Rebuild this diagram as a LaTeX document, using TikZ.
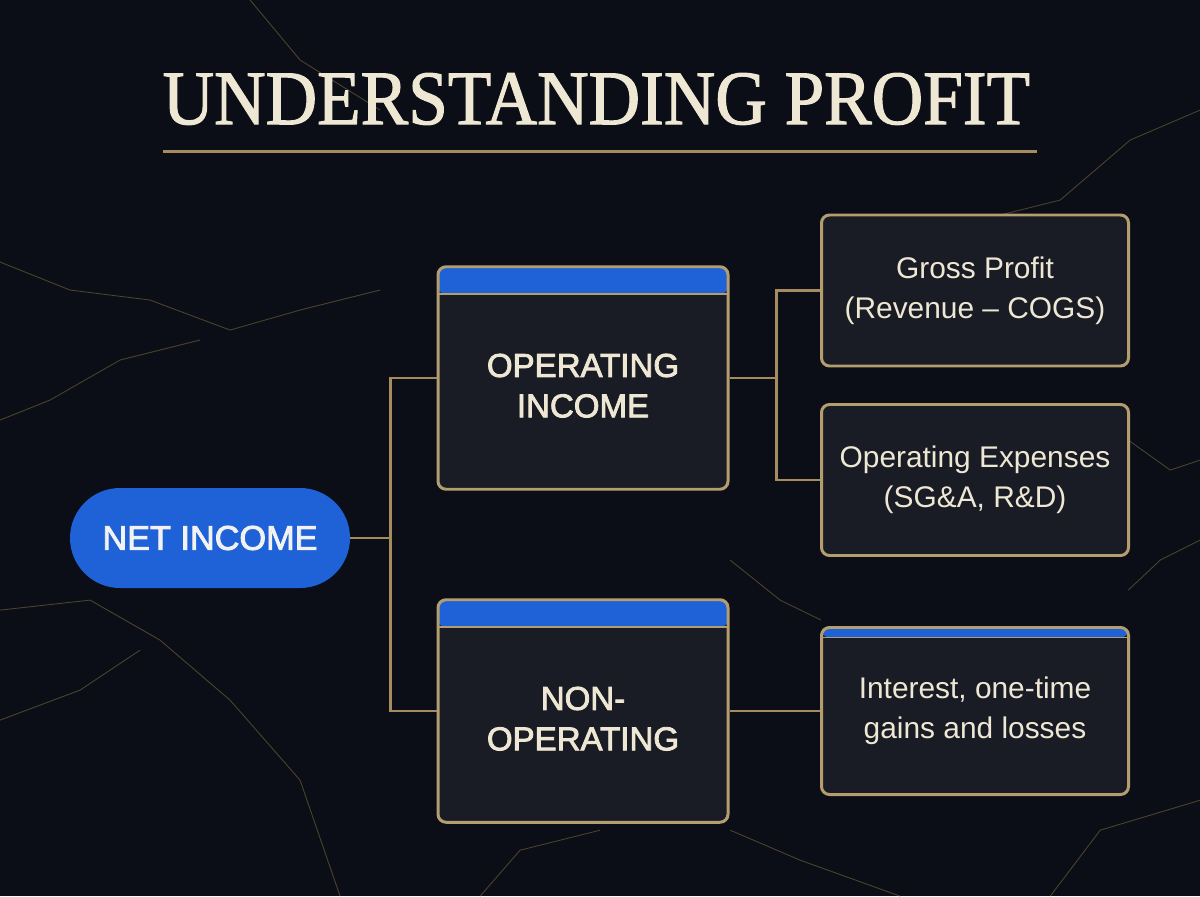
\documentclass[tikz,border=0pt]{standalone}
\usepackage{fontspec}
\setmainfont{Liberation Sans}
\newfontfamily\titlefont{Liberation Serif}[FakeBold=1.5]
\newfontfamily\headfont{Liberation Sans}[FakeBold=2.5]
\usetikzlibrary{trees}

\definecolor{bgnavy}{HTML}{0B0E17}
\definecolor{panelfill}{HTML}{191C25}
\definecolor{gold}{HTML}{B49D6E}
\definecolor{linegold}{HTML}{A58C5F}
\definecolor{royal}{HTML}{1F62D8}
\definecolor{cream}{HTML}{EEE7D3}
\definecolor{veingold}{HTML}{6A5A35}

\newcommand{\lowtext}[1]{\raisebox{-0.22cm}[\height][\depth]{\begin{tabular}{@{}c@{}}#1\end{tabular}}}

\begin{document}
\begin{tikzpicture}[grow'=right,
  pill/.style = {rectangle, rounded corners=1cm, fill=royal, text=white!95!black,
    minimum width=5.6cm, minimum height=2cm, font=\headfont\fontsize{19.5}{23}\selectfont},
  panel/.style = {rectangle, rounded corners=0.16cm, draw=gold, line width=1.7pt,
    fill=panelfill, text=cream, minimum width=5.8cm, minimum height=4.45cm,
    font=\headfont\fontsize{18.8}{23}\selectfont},
  leafbox/.style = {panel, minimum width=6.14cm, minimum height=3.02cm, align=center,
    font=\normalfont\fontsize{17}{22.7}\selectfont},
  capbar/.style = {path picture={
    \fill[royal] (path picture bounding box.north west) rectangle
      ([yshift=-#1]path picture bounding box.north east);
    \draw[gold, line width=1pt] ([yshift=-#1]path picture bounding box.north west) --
      ([yshift=-#1]path picture bounding box.north east);}},
  elbow/.style = {edge from parent path={(\tikzparentnode.east) -- ++(#1,0) |- (\tikzchildnode.west)}},
  edge from parent/.style = {draw=linegold, line width=1.4pt},
  level 1/.style = {level distance=7.46cm, sibling distance=6.66cm, elbow=0.8cm},
  level 2/.style = {level distance=7.84cm, sibling distance=3.79cm, elbow=0.94cm},
  vein/.style = {draw=veingold, line width=0.5pt, opacity=0.7}]

  % background and marble veins
  \fill[bgnavy] (0,0) rectangle (24,17.92);
  \useasboundingbox (0,0) rectangle (24,17.92);
  \begin{scope}[shift={(0,17.92)}, x=0.02cm, y=-0.02cm]
    \draw[vein] (0,262) -- (70,290) -- (150,300) -- (230,330) -- (300,310) -- (380,290);
    \draw[vein] (0,420) -- (50,400) -- (120,360) -- (200,340);
    \draw[vein] (0,610) -- (90,600) -- (160,640) -- (230,700) -- (300,780) -- (340,896);
    \draw[vein] (0,720) -- (80,690) -- (140,650);
    \draw[vein] (250,0) -- (300,60) -- (380,110);
    \draw[vein] (1200,110) -- (1130,140) -- (1060,200) -- (1000,215);
    \draw[vein] (1128,440) -- (1170,470) -- (1200,460);
    \draw[vein] (1128,590) -- (1160,560) -- (1200,540);
    \draw[vein] (480,896) -- (520,850) -- (600,830);
    \draw[vein] (730,560) -- (780,600) -- (821,620);
    \draw[vein] (730,830) -- (800,860) -- (900,896);
    \draw[vein] (1050,896) -- (1100,830) -- (1200,800);
  \end{scope}

  % title
  \node[inner sep=0, text=cream] (title) at (11.93,15.94)
    {\resizebox{17.35cm}{1.02cm}{\titlefont UNDERSTANDING PROFIT}};
  \draw[linegold, line width=0.06cm] (3.26,14.88) -- (20.74,14.88);

  % profit tree
  \node[pill] (net) at (4.2,7.16) {NET INCOME}
    child {node[panel, capbar=0.55cm, yshift=-0.13cm] (opinc) {\lowtext{OPERATING\\INCOME}}
      child {node[leafbox, yshift=-0.145cm] (gross) {Gross Profit\\(Revenue – COGS)}}
      child {node[leafbox, yshift=-0.145cm] (opex) {Operating Expenses\\(SG\&A, R\&D)}}
    }
    child {node[panel, capbar=0.55cm, yshift=-0.13cm] (nonop) {\lowtext{NON-\\OPERATING}}
      child {node[leafbox, capbar=0.2cm, minimum height=3.34cm] (other)
        {Interest, one-time\\gains and losses}}
    };
\end{tikzpicture}
\end{document}
